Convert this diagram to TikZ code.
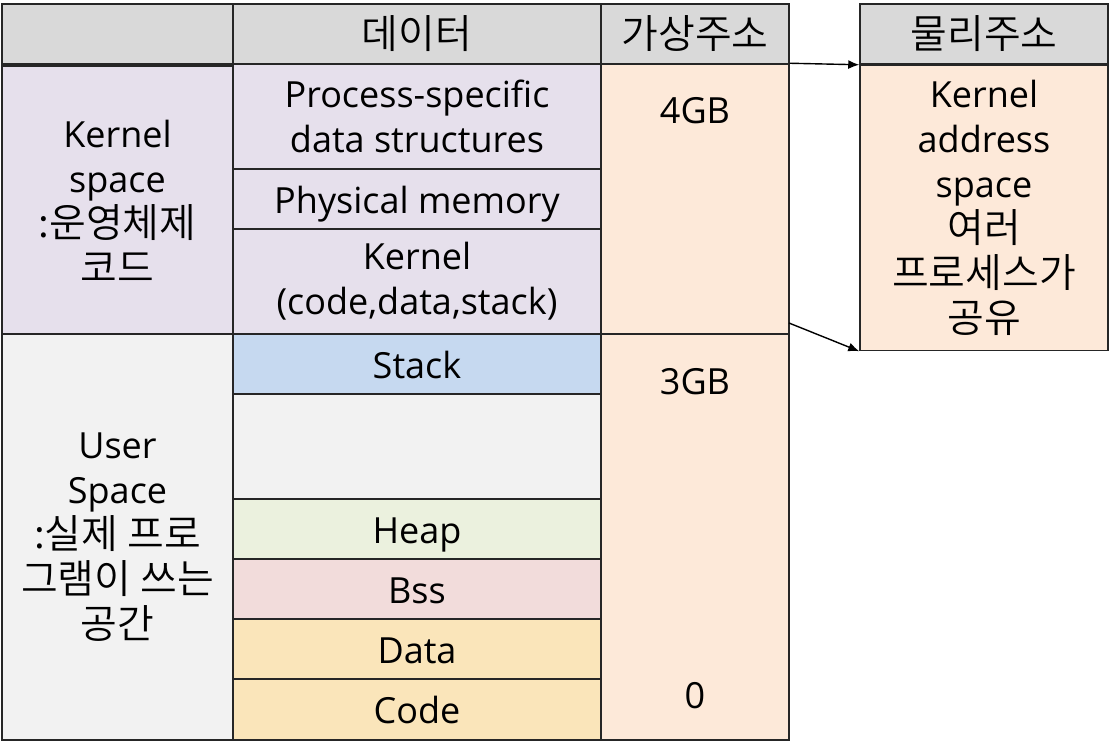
\documentclass[tikz,border=0pt]{standalone}
\usepackage{fontspec}
\setmainfont{Open Sans}
\newfontfamily\kr{Noto Sans CJK KR DemiLight}[Scale=1.11]
\usetikzlibrary{arrows.meta}
\definecolor{hdr}{HTML}{D9D9D9}
\definecolor{kern}{HTML}{E6E0EC}
\definecolor{usr}{HTML}{F2F2F2}
\definecolor{stk}{HTML}{C6D9F0}
\definecolor{hp}{HTML}{EBF1DE}
\definecolor{bs}{HTML}{F2DCDB}
\definecolor{dc}{HTML}{FAE5BA}
\definecolor{addr}{HTML}{FDE9D9}
\tikzset{
  cell/.style={draw=black!85, line width=1.5pt, inner sep=0pt, align=center,
    font=\fontsize{36}{45}\selectfont},
  one/.style={text height=28pt, text depth=0pt},
  lbl/.style={inner sep=0pt, font=\fontsize{36}{45}\selectfont},
  conn/.style={line width=1.4pt, -{Latex[length=11pt,width=9pt]}}
}
\begin{document}
\begin{tikzpicture}[x=1pt,y=-1pt]
\useasboundingbox (0,0) rectangle (1111,755);
% header
\node[cell, fill=hdr, minimum width=231, minimum height=60] (h0) at (117.5,34) {};
\node[cell, fill=hdr, minimum width=368, minimum height=60] (h1) at (417,34) {\kr 데이터};
\node[cell, fill=hdr, minimum width=188, minimum height=60] (h2) at (695,34) {\kr 가상주소};
% kernel space
\node[cell, fill=kern, minimum width=231, minimum height=270] (k0) at (117.5,201) {Kernel\\space\\{\kr :운영체제}\\{\kr 코드}};
\node[cell, fill=kern, minimum width=368, minimum height=105] (k1) at (417,116.5) {Process-specific\\data structures};
\node[cell, one, fill=kern, minimum width=368, minimum height=60] (k2) at (417,199) {Physical memory};
\node[cell, fill=kern, minimum width=368, minimum height=105] (k3) at (417,281.5) {Kernel\\(code,data,stack)};
\node[cell, fill=addr, minimum width=188, minimum height=270] (a1) at (695,199) {};
\node[lbl] (t4) at (695,111) {4GB};
% user space
\node[cell, fill=usr, minimum width=231, minimum height=406] (u0) at (117.5,537) {User\\Space\\{\kr :실제 프로}\\{\kr 그램이 쓰는}\\{\kr 공간}};
\node[cell, one, fill=stk, minimum width=368, minimum height=60] (st) at (417,364) {Stack};
\node[cell, fill=usr, minimum width=368, minimum height=105] (em) at (417,446.5) {};
\node[cell, one, fill=hp, minimum width=368, minimum height=60] (hp) at (417,529) {Heap};
\node[cell, one, fill=bs, minimum width=368, minimum height=60] (bs) at (417,589) {Bss};
\node[cell, one, fill=dc, minimum width=368, minimum height=60] (da) at (417,649) {Data};
\node[cell, one, fill=dc, minimum width=368, minimum height=61] (co) at (417,709.5) {Code};
\node[cell, fill=addr, minimum width=188, minimum height=406] (a2) at (695,537) {};
\node[lbl] (t3) at (695,382) {3GB};
\node[lbl] (t0) at (695,696) {0};
% physical
\node[cell, fill=hdr, minimum width=248, minimum height=60] (p0) at (984,34) {\kr 물리주소};
\node[cell, fill=addr, minimum width=248, minimum height=285] (p1) at (984,208) {Kernel\\address\\space\\{\kr 여러}\\{\kr 프로세스가}\\{\kr 공유}};
% arrows
\coordinate (s2) at (789,323);
\draw[conn] (a1.north east) -- (p1.north west);
\draw[conn] (s2) -- (p1.south west);
\end{tikzpicture}
\end{document}
